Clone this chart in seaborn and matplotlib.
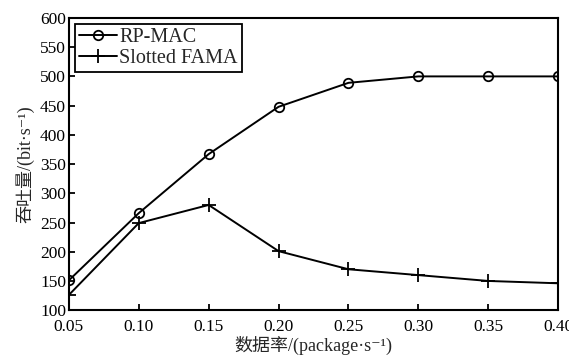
import matplotlib
matplotlib.use("Agg")
import matplotlib.pyplot as plt
import seaborn as sns
import pandas as pd

rates = [0.05, 0.10, 0.15, 0.20, 0.25, 0.30, 0.35, 0.40]
rp_mac = [151, 266, 367, 448, 489, 500, 500, 500]
slotted_fama = [126, 249, 280, 201, 170, 160, 150, 146]
x_ticks = [0.05, 0.10, 0.15, 0.20, 0.25, 0.30, 0.35, 0.40]
y_ticks = [100, 150, 200, 250, 300, 350, 400, 450, 500, 550, 600]

sns.set_style("ticks")
plt.rcParams['font.family'] = ['Liberation Serif', 'Noto Sans CJK SC', 'DejaVu Serif']
plt.rcParams['xtick.direction'] = 'in'
plt.rcParams['ytick.direction'] = 'in'

df = pd.DataFrame({
    'rate': rates * 2,
    'thr': rp_mac + slotted_fama,
    'series': ['RP-MAC'] * len(rates) + ['Slotted FAMA'] * len(rates),
})

fig = plt.figure(figsize=(5.69, 3.59), dpi=100)
ax = fig.add_axes([0.121, 0.136, 0.860, 0.814])

sns.lineplot(data=df[df.series == 'RP-MAC'], x='rate', y='thr', ax=ax,
             color='black', lw=1.4, marker='o', markersize=6.8,
             markerfacecolor='none', markeredgecolor='black', markeredgewidth=1.3,
             label='RP-MAC')
sns.lineplot(data=df[df.series == 'Slotted FAMA'], x='rate', y='thr', ax=ax,
             color='black', lw=1.4, marker='+', markersize=10,
             markeredgecolor='black', markeredgewidth=1.3,
             label='Slotted FAMA')

ax.set_xlim(0.05, 0.40)
ax.set_ylim(100, 600)
ax.set_xticks(x_ticks)
ax.set_xticklabels([f"{v:.2f}" for v in x_ticks])
ax.set_yticks(y_ticks)
ax.tick_params(axis='both', labelsize=12.5, length=4, width=1.3, colors='black')
ax.tick_params(axis='x', pad=6)
ax.tick_params(axis='y', pad=2)
ax.tick_params(top=False, right=False)
for s in ax.spines.values():
    s.set_visible(True)
    s.set_linewidth(1.5)
    s.set_color('black')

ax.set_xlabel('数据率/(package·s⁻¹)', fontsize=13, labelpad=1)
ax.set_ylabel('吞吐量/(bit·s⁻¹)', fontsize=13, labelpad=4)

leg = ax.legend(loc='upper left', fontsize=14.5, frameon=True, fancybox=False,
                edgecolor='black', handlelength=1.9, handletextpad=0.1,
                borderpad=0.2, labelspacing=0.1, borderaxespad=0.3)
leg.get_frame().set_linewidth(1.3)
leg.get_frame().set_alpha(1)

fig.savefig('out.png', dpi=100)
